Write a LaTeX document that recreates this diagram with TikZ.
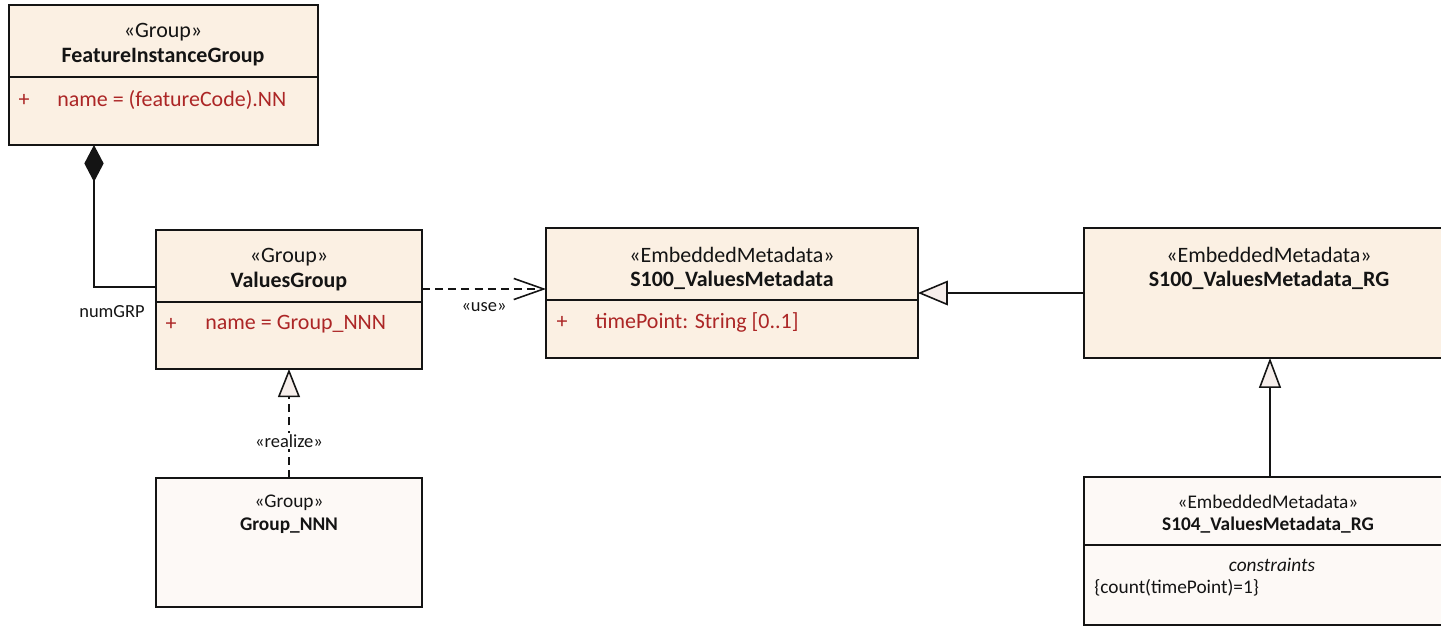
\documentclass[tikz,border=0pt]{standalone}
\usepackage{fontspec}
\setmainfont{Carlito}
\usetikzlibrary{arrows.meta}
\definecolor{boxfill}{RGB}{251,240,227}
\definecolor{boxlight}{RGB}{253,249,246}
\definecolor{attrred}{RGB}{172,38,38}
\definecolor{ink}{RGB}{20,20,20}
\definecolor{trifill}{RGB}{246,238,235}
\tikzset{
  classbox/.style={draw=ink, line width=1pt, fill=boxfill, inner sep=0pt, outer sep=0pt, anchor=north west},
  lightbox/.style={classbox, fill=boxlight},
  big/.style={font=\fontsize{12.5}{15}\selectfont, text=ink, inner sep=0pt},
  bigb/.style={big, font=\fontsize{12.5}{15}\selectfont\bfseries},
  attr/.style={big, text=attrred},
  small/.style={font=\fontsize{11}{13}\selectfont, text=ink, inner sep=0pt},
  smallb/.style={small, font=\fontsize{11}{13}\selectfont\bfseries},
  lbl/.style={font=\fontsize{10.5}{12}\selectfont, text=ink, inner sep=1pt},
  divider/.style={draw=ink, line width=1pt},
  conn/.style={draw=ink, line width=0.9pt},
  gen/.style={conn, -{Triangle[length=17pt,width=14pt,fill=trifill,line width=0.9pt]}},
  genv/.style={conn, -{Triangle[length=17pt,width=12.5pt,fill=trifill,line width=0.9pt]}},
  realizes/.style={conn, dash pattern=on 4.5pt off 3pt, -{Triangle[length=16pt,width=12.5pt,fill=trifill,line width=0.9pt]}},
  uses/.style={conn, dash pattern=on 4.5pt off 3pt, -{Straight Barb[length=17pt,width=12pt,line width=0.9pt]}},
  comp/.style={conn, -{Diamond[length=21pt,width=11pt]}}
}
\begin{document}
\begin{tikzpicture}[x=0.02cm,y=-0.02cm]
\useasboundingbox (0,0) rectangle (1441,627);
\clip (0,0) rectangle (1441,627);
% boxes
\node[classbox, minimum width=6.18cm, minimum height=2.8cm] (fig) at (9,5) {};
\node[classbox, minimum width=5.32cm, minimum height=2.78cm] (vg) at (156,230) {};
\node[classbox, minimum width=7.44cm, minimum height=2.6cm] (s100) at (546,228) {};
\node[classbox, minimum width=7.6cm, minimum height=2.6cm] (rg) at (1084,228) {};
\node[lightbox, minimum width=5.32cm, minimum height=2.58cm] (gnnn) at (156,478) {};
\node[lightbox, minimum width=7.6cm, minimum height=2.96cm] (s104) at (1084,477) {};
% dividers
\draw[divider] (fig.west |- 0,77) -- (fig.east |- 0,77);
\draw[divider] (vg.west |- 0,302) -- (vg.east |- 0,302);
\draw[divider] (s100.west |- 0,300) -- (s100.east |- 0,300);
\draw[divider] (s104.west |- 0,545) -- (s104.east |- 0,545);
% FeatureInstanceGroup
\node[big] (figst) at (163,32) {«Group»};
\node[bigb] (fignm) at (163,57) {FeatureInstanceGroup};
\node[attr] (figplus) at (24,100) {+};
\node[attr, anchor=west] (figat) at (57,100) {name = (featureCode).NN};
% ValuesGroup
\node[big] (vgst) at (289,257) {«Group»};
\node[bigb] (vgnm) at (289,282) {ValuesGroup};
\node[attr] (vgplus) at (171,324) {+};
\node[attr, anchor=west] (vgat) at (205,324) {name = Group\_NNN};
% S100_ValuesMetadata
\node[big] (s100st) at (732,255) {«EmbeddedMetadata»};
\node[bigb] (s100nm) at (732,280) {S100\_ValuesMetadata};
\node[attr] (s100plus) at (562,322) {+};
\node[attr, anchor=west] (s100at) at (595,322) {timePoint: String [0..1]};
% S100_ValuesMetadata_RG
\node[big] (rgst) at (1269,255) {«EmbeddedMetadata»};
\node[bigb] (rgnm) at (1269,280) {S100\_ValuesMetadata\_RG};
% Group_NNN
\node[small] (gst) at (289,503) {«Group»};
\node[smallb] (gnm) at (289,526) {Group\_NNN};
% S104
\node[small] (s104st) at (1268,502) {«EmbeddedMetadata»};
\node[smallb] (s104nm) at (1268,525) {S104\_ValuesMetadata\_RG};
\node[small, font=\fontsize{11}{13}\selectfont\itshape] (s104c) at (1272,565) {constraints};
\node[small, anchor=west] (s104cc) at (1094,588) {\{count(timePoint)=1\}};
% connectors
\draw[comp] (vg.west |- 0,287) -| (fig.south -| 94,0);
\node[lbl] (numgrp) at (112,312) {numGRP};
\draw[uses] (vg.east |- 0,289) -- (s100.west |- 0,289);
\node[lbl] (uselbl) at (484,307) {«use»};
\draw[gen] (rg.west |- 0,293) -- (s100.east |- 0,293);
\draw[genv] (s104.north -| 1270,0) -- (rg.south -| 1270,0);
\draw[realizes] (gnnn.north) -- (vg.south);
\node[lbl, fill=white] (reallbl) at (289,441) {«realize»};
\end{tikzpicture}
\end{document}
